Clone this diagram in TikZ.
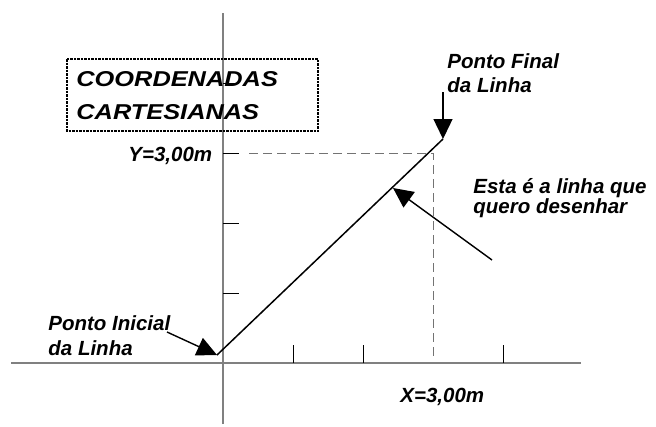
\documentclass[tikz,border=0pt]{standalone}
\usepackage{fontspec}
\setmainfont{Liberation Sans}
\newfontfamily\titfont{Liberation Sans}[FakeStretch=1.18]
\usetikzlibrary{arrows.meta}

\begin{document}
\begin{tikzpicture}[x=1pt, y=-1pt, thick,
    axis line/.style={draw=black!50, line width=1.3pt},
    tick line/.style={draw=black, line width=0.9pt},
    guide line/.style={draw=black!55, line width=1pt, dash pattern=on 9pt off 5pt},
    label text/.style={anchor=base west, inner sep=0pt, align=left,
      font=\bfseries\itshape\fontsize{20.5}{24}\selectfont},
    pointer/.style={-{Triangle[length=20pt, width=19pt]}, line width=1.4pt}]

  \useasboundingbox (0,0) rectangle (656,426);

  % Axes
  \coordinate (xmin) at (11,363);
  \coordinate (xmax) at (581,363);
  \coordinate (ymin) at (223,424);
  \coordinate (ymax) at (223,13);
  \draw[axis line] (xmin) -- (xmax);
  \draw[axis line] (ymin) -- (ymax);

  % Ticks
  \foreach \x in {293,363,503}
    \draw[tick line] (\x,363) -- ++(0,-18);
  \foreach \y in {83,153,223,293}
    \draw[tick line] (223,\y) -- ++(16,0);

  % Title box (base = last line)
  \node[label text, font=\titfont\bfseries\itshape\fontsize{21.5}{33}\selectfont]
    (titulo) at (76,119) {COORDENADAS\\CARTESIANAS};
  \draw[line width=2pt, dash pattern=on 2.5pt off 1pt] (67,59) rectangle (318,131);

  % The line and its guides
  \coordinate (inicio) at (217,355);
  \coordinate (fim) at (443,139);
  \coordinate (ycota) at (249,153);
  \coordinate (canto) at (433,153);
  \coordinate (xcota) at (433,357);
  \draw[guide line] (ycota) -- (canto) -- (xcota);
  \draw[line width=1.5pt] (inicio) -- (fim);

  % Labels
  \node[label text] (yval) at (128,161) {Y=3,00m};
  \node[label text] (xval) at (400,402) {X=3,00m};
  \node[label text] (final) at (447,92) {Ponto Final\\da Linha};
  \node[label text, font=\bfseries\itshape\fontsize{20.5}{20}\selectfont]
    (esta) at (473,213) {Esta é a linha que\\quero desenhar};
  \node[label text, font=\bfseries\itshape\fontsize{20.5}{25}\selectfont]
    (inicial) at (48,355) {Ponto Inicial\\da Linha};

  % Pointers
  \coordinate (pfinal) at (443,92);
  \coordinate (pinicial) at (167,332);
  \coordinate (pesta) at (492,260);
  \coordinate (meio) at (393,188);
  \draw[pointer] (pfinal) -- (fim);
  \draw[pointer] (pinicial) -- (inicio);
  \draw[pointer] (pesta) -- (meio);
\end{tikzpicture}
\end{document}
